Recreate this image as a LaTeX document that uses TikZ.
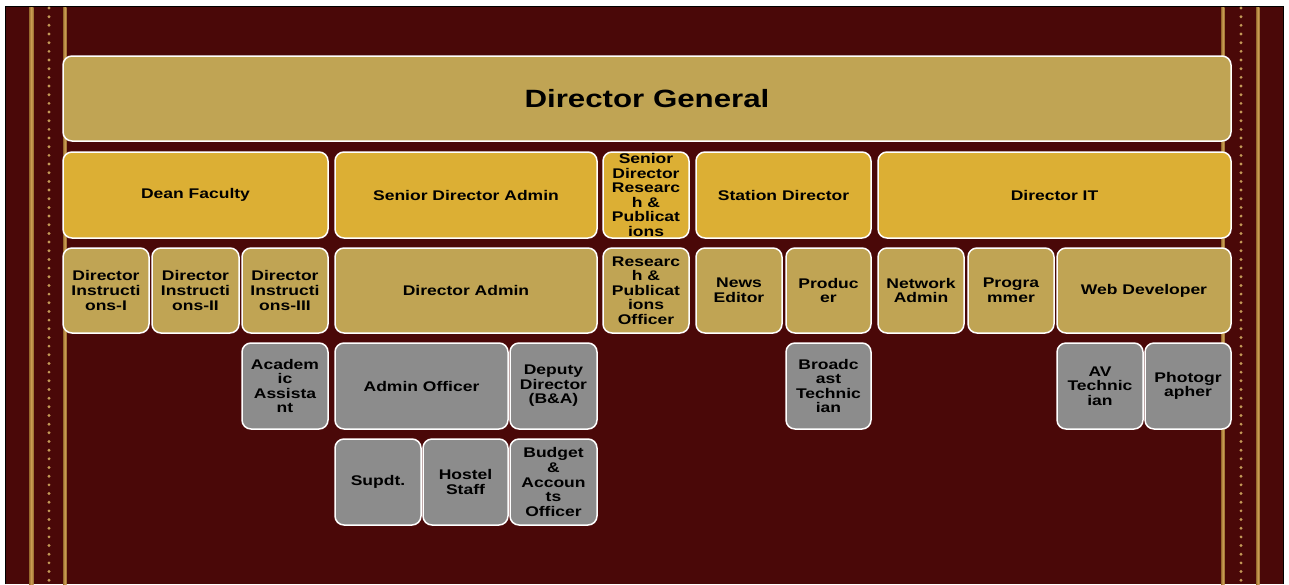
\documentclass[tikz,border=0pt]{standalone}
\usepackage{xcolor}
\usepackage{fontspec}
\usepackage{tikz}

\newfontfamily\orgfont[FakeStretch=1.25]{Liberation Sans}

\definecolor{slidered}{RGB}{74,8,8}
\definecolor{stripegold}{RGB}{150,105,45}
\definecolor{stripelight}{RGB}{208,162,86}
\definecolor{dotgold}{RGB}{196,154,88}
\definecolor{boxtan}{RGB}{192,164,84}
\definecolor{boxgold}{RGB}{220,175,52}
\definecolor{boxgray}{RGB}{140,140,140}

\tikzset{
    orgbox/.style={draw=white, line width=1.5pt, rounded corners=9pt, rectangle,
        minimum height=85, inner sep=0pt, align=center, text=black,
        font=\orgfont\bfseries\fontsize{14}{14.6}\selectfont},
    tanbox/.style={orgbox, fill=boxtan, minimum width=#1},
    tanbox/.default=86,
    goldbox/.style={orgbox, fill=boxgold, minimum width=#1},
    goldbox/.default=86,
    graybox/.style={orgbox, fill=boxgray, minimum width=#1},
    graybox/.default=86,
}

\begin{document}
\begin{tikzpicture}[x=1pt, y=-1pt]
    \useasboundingbox (0, 0) rectangle (1289, 584);
    \fill[white] (0, 0) rectangle (1289, 584);
    \fill[slidered] (5, 6) rectangle (1284, 584);
    \draw[black, line width=1.5pt] (5.5, 584) -- (5.5, 6.5) -- (1283.5, 6.5) -- (1283.5, 584);

    % border stripes
    \shade[left color=stripegold, right color=stripegold, middle color=stripelight] (29, 7) rectangle (33.5, 584);
    \shade[left color=stripegold, right color=stripegold, middle color=stripelight] (63, 7) rectangle (66.5, 584);
    \shade[left color=stripegold, right color=stripegold, middle color=stripelight] (1221, 7) rectangle (1224.5, 584);
    \shade[left color=stripegold, right color=stripegold, middle color=stripelight] (1256, 7) rectangle (1259.5, 584);
    \foreach \i in {0,...,66} {
        \fill[dotgold] (49, {8 + \i*8.67}) circle[radius=1.6pt];
        \fill[dotgold] (1241, {8 + \i*8.67}) circle[radius=1.6pt];
    }

    \node[tanbox=1168, font=\orgfont\bfseries\fontsize{25}{26}\selectfont] at (647, 98.5) (root) {Director General};

    \node[goldbox=265, minimum height=86] at (195.5, 195) (L1N1) {Dean Faculty};
    \node[goldbox=262, minimum height=86] at (466, 195) (L1N2) {Senior Director Admin};
    \node[goldbox, minimum height=86] at (646, 195) (L1N3) {Senior\\Director\\Researc\\h \&\\Publicat\\ions};
    \node[goldbox=175, minimum height=86] at (783.5, 195) (L1N4) {Station Director};
    \node[goldbox=353, minimum height=86] at (1054.5, 195) (L1N5) {Director IT};

    \node[tanbox] at (106, 290.5) (L2N1) {Director\\Instructi\\ons-I};
    \node[tanbox=87] at (195.5, 290.5) (L2N2) {Director\\Instructi\\ons-II};
    \node[tanbox] at (285, 290.5) (L2N3) {Director\\Instructi\\ons-III};
    \node[tanbox=262] at (466, 290.5) (L2N4) {Director Admin};
    \node[tanbox] at (646, 290.5) (L2N5) {Researc\\h \&\\Publicat\\ions\\Officer};
    \node[tanbox] at (739, 290.5) (L2N6) {News\\Editor};
    \node[tanbox=85] at (828.5, 290.5) (L2N7) {Produc\\er};
    \node[tanbox] at (921, 290.5) (L2N8) {Network\\Admin};
    \node[tanbox] at (1011, 290.5) (L2N9) {Progra\\mmer};
    \node[tanbox=174] at (1144, 290.5) (L2N10) {Web Developer};

    \node[graybox, minimum height=86] at (285, 386) (L3N1) {Academ\\ic\\Assista\\nt};
    \node[graybox=173, minimum height=86] at (421.5, 386) (L3N2) {Admin Officer};
    \node[graybox=87, minimum height=86] at (553.5, 386) (L3N3) {Deputy\\Director\\(B\&A)};
    \node[graybox=85, minimum height=86] at (828.5, 386) (L3N4) {Broadc\\ast\\Technic\\ian};
    \node[graybox, minimum height=86] at (1100, 386) (L3N5) {AV\\Technic\\ian};
    \node[graybox, minimum height=86] at (1188, 386) (L3N6) {Photogr\\apher};

    \node[graybox, minimum height=86] at (378, 482) (L4N1) {Supdt.};
    \node[graybox=85, minimum height=86] at (465.5, 482) (L4N2) {Hostel\\Staff};
    \node[graybox=87, minimum height=86] at (553.5, 482) (L4N3) {Budget\\\&\\Accoun\\ts\\Officer};
\end{tikzpicture}
\end{document}
